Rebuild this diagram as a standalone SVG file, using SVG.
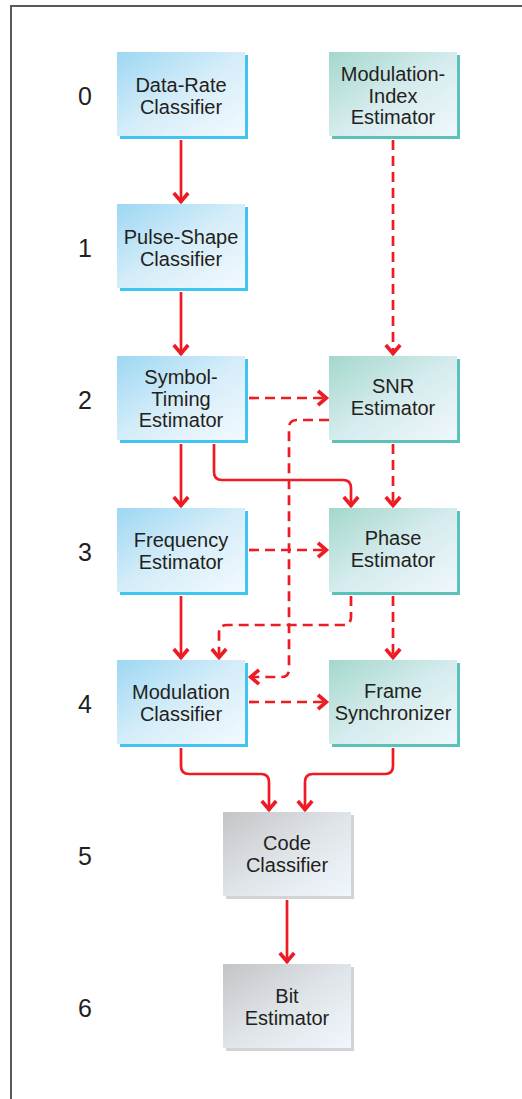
<svg xmlns="http://www.w3.org/2000/svg" width="522" height="1099" viewBox="0 0 522 1099">
<style>
.t{font-family:"Liberation Sans",Arial,sans-serif;font-size:20px;fill:#231f20;text-anchor:middle}
.lbl{font-family:"Liberation Sans",Arial,sans-serif;font-size:25px;fill:#231f20;text-anchor:middle}
.c{fill:none;stroke:#ed1c24;stroke-width:2.7}
.d{stroke-dasharray:10 6}
.sb{fill:#40c4f0}.st{fill:#5bc2bb}.sg{fill:#d1d3d5}
</style>
<defs>
<linearGradient id="gb" x1="0" y1="0" x2="1" y2="1"><stop offset="0" stop-color="#9dd7f3"/><stop offset="0.5" stop-color="#d5edf9"/><stop offset="1" stop-color="#f3f9fe"/></linearGradient>
<linearGradient id="gt" x1="0" y1="0" x2="1" y2="1"><stop offset="0" stop-color="#a3d8cb"/><stop offset="0.5" stop-color="#d5ebed"/><stop offset="1" stop-color="#f0f7fc"/></linearGradient>
<linearGradient id="gg" x1="0" y1="0" x2="1" y2="1"><stop offset="0" stop-color="#c3c4c7"/><stop offset="0.5" stop-color="#dfe4e8"/><stop offset="1" stop-color="#f0f7fd"/></linearGradient>
<marker id="ah" markerUnits="userSpaceOnUse" markerWidth="20" markerHeight="20" viewBox="-12 -9 14 18" refX="0" refY="0" orient="auto">
<path d="M-9,-6.5 L-1.5,0 L-9,6.5" fill="none" stroke="#ed1c24" stroke-width="3.3"/>
</marker>
</defs>
<rect x="11" y="6" width="600" height="1200" fill="none" stroke="#595959" stroke-width="2"/>
<g id="labels">
<text class="lbl" x="85" y="105">0</text>
<text class="lbl" x="85" y="257">1</text>
<text class="lbl" x="85" y="409">2</text>
<text class="lbl" x="85" y="561">3</text>
<text class="lbl" x="85" y="713">4</text>
<text class="lbl" x="85" y="865">5</text>
<text class="lbl" x="85" y="1017">6</text>
</g>
<g id="connectors">
<path class="c" d="M181,140 V203" marker-end="url(#ah)"/>
<path class="c" d="M181,292 V355" marker-end="url(#ah)"/>
<path class="c d" d="M393,140 V355" marker-end="url(#ah)"/>
<path class="c d" d="M249,398 H328" marker-end="url(#ah)"/>
<path class="c" d="M181,444 V507" marker-end="url(#ah)"/>
<path class="c" d="M214,444 V472 Q214,480 222,480 H343 Q351,480 351,488 V507" marker-end="url(#ah)"/>
<path class="c d" d="M393,444 V507" marker-end="url(#ah)"/>
<path class="c d" d="M329,420 H297 Q289,420 289,428 V669 Q289,677 281,677 H249" marker-end="url(#ah)"/>
<path class="c d" d="M249,550 H328" marker-end="url(#ah)"/>
<path class="c" d="M181,596 V659" marker-end="url(#ah)"/>
<path class="c d" d="M351,596 V617 Q351,625 343,625 H227 Q219,625 219,633 V659" marker-end="url(#ah)"/>
<path class="c d" d="M393,596 V659" marker-end="url(#ah)"/>
<path class="c d" d="M249,702 H328" marker-end="url(#ah)"/>
<path class="c" d="M181,748 V766 Q181,774 189,774 H261 Q269,774 269,782 V811" marker-end="url(#ah)"/>
<path class="c" d="M393,748 V766 Q393,774 385,774 H313 Q305,774 305,782 V811" marker-end="url(#ah)"/>
<path class="c" d="M287,900 V963" marker-end="url(#ah)"/>
</g>
<g id="data-rate">
<rect class="sb" x="120" y="55" width="128" height="84"/>
<rect x="117" y="52" width="128" height="84" fill="url(#gb)"/>
<text class="t" x="181" y="92">Data-Rate</text>
<text class="t" x="181" y="113.5">Classifier</text>
</g>
<g id="mod-index">
<rect class="st" x="332" y="55" width="128" height="84"/>
<rect x="329" y="52" width="128" height="84" fill="url(#gt)"/>
<text class="t" x="393" y="81">Modulation-</text>
<text class="t" x="393" y="102.5">Index</text>
<text class="t" x="393" y="124">Estimator</text>
</g>
<g id="pulse-shape">
<rect class="sb" x="120" y="207" width="128" height="84"/>
<rect x="117" y="204" width="128" height="84" fill="url(#gb)"/>
<text class="t" x="181" y="244">Pulse-Shape</text>
<text class="t" x="181" y="265.5">Classifier</text>
</g>
<g id="symbol-timing">
<rect class="sb" x="120" y="359" width="128" height="84"/>
<rect x="117" y="356" width="128" height="84" fill="url(#gb)"/>
<text class="t" x="181" y="384">Symbol-</text>
<text class="t" x="181" y="405.5">Timing</text>
<text class="t" x="181" y="427">Estimator</text>
</g>
<g id="snr">
<rect class="st" x="332" y="359" width="128" height="84"/>
<rect x="329" y="356" width="128" height="84" fill="url(#gt)"/>
<text class="t" x="393" y="393">SNR</text>
<text class="t" x="393" y="415">Estimator</text>
</g>
<g id="frequency">
<rect class="sb" x="120" y="511" width="128" height="84"/>
<rect x="117" y="508" width="128" height="84" fill="url(#gb)"/>
<text class="t" x="181" y="547">Frequency</text>
<text class="t" x="181" y="568.5">Estimator</text>
</g>
<g id="phase">
<rect class="st" x="332" y="511" width="128" height="84"/>
<rect x="329" y="508" width="128" height="84" fill="url(#gt)"/>
<text class="t" x="393" y="545">Phase</text>
<text class="t" x="393" y="567">Estimator</text>
</g>
<g id="modulation">
<rect class="sb" x="120" y="663" width="128" height="84"/>
<rect x="117" y="660" width="128" height="84" fill="url(#gb)"/>
<text class="t" x="181" y="699">Modulation</text>
<text class="t" x="181" y="721">Classifier</text>
</g>
<g id="frame-sync">
<rect class="st" x="332" y="663" width="128" height="84"/>
<rect x="329" y="660" width="128" height="84" fill="url(#gt)"/>
<text class="t" x="393" y="698">Frame</text>
<text class="t" x="393" y="720">Synchronizer</text>
</g>
<g id="code">
<rect class="sg" x="226" y="815" width="128" height="84"/>
<rect x="223" y="812" width="128" height="84" fill="url(#gg)"/>
<text class="t" x="287" y="850">Code</text>
<text class="t" x="287" y="872">Classifier</text>
</g>
<g id="bit">
<rect class="sg" x="226" y="967" width="128" height="84"/>
<rect x="223" y="964" width="128" height="84" fill="url(#gg)"/>
<text class="t" x="287" y="1003">Bit</text>
<text class="t" x="287" y="1025">Estimator</text>
</g>
</svg>
